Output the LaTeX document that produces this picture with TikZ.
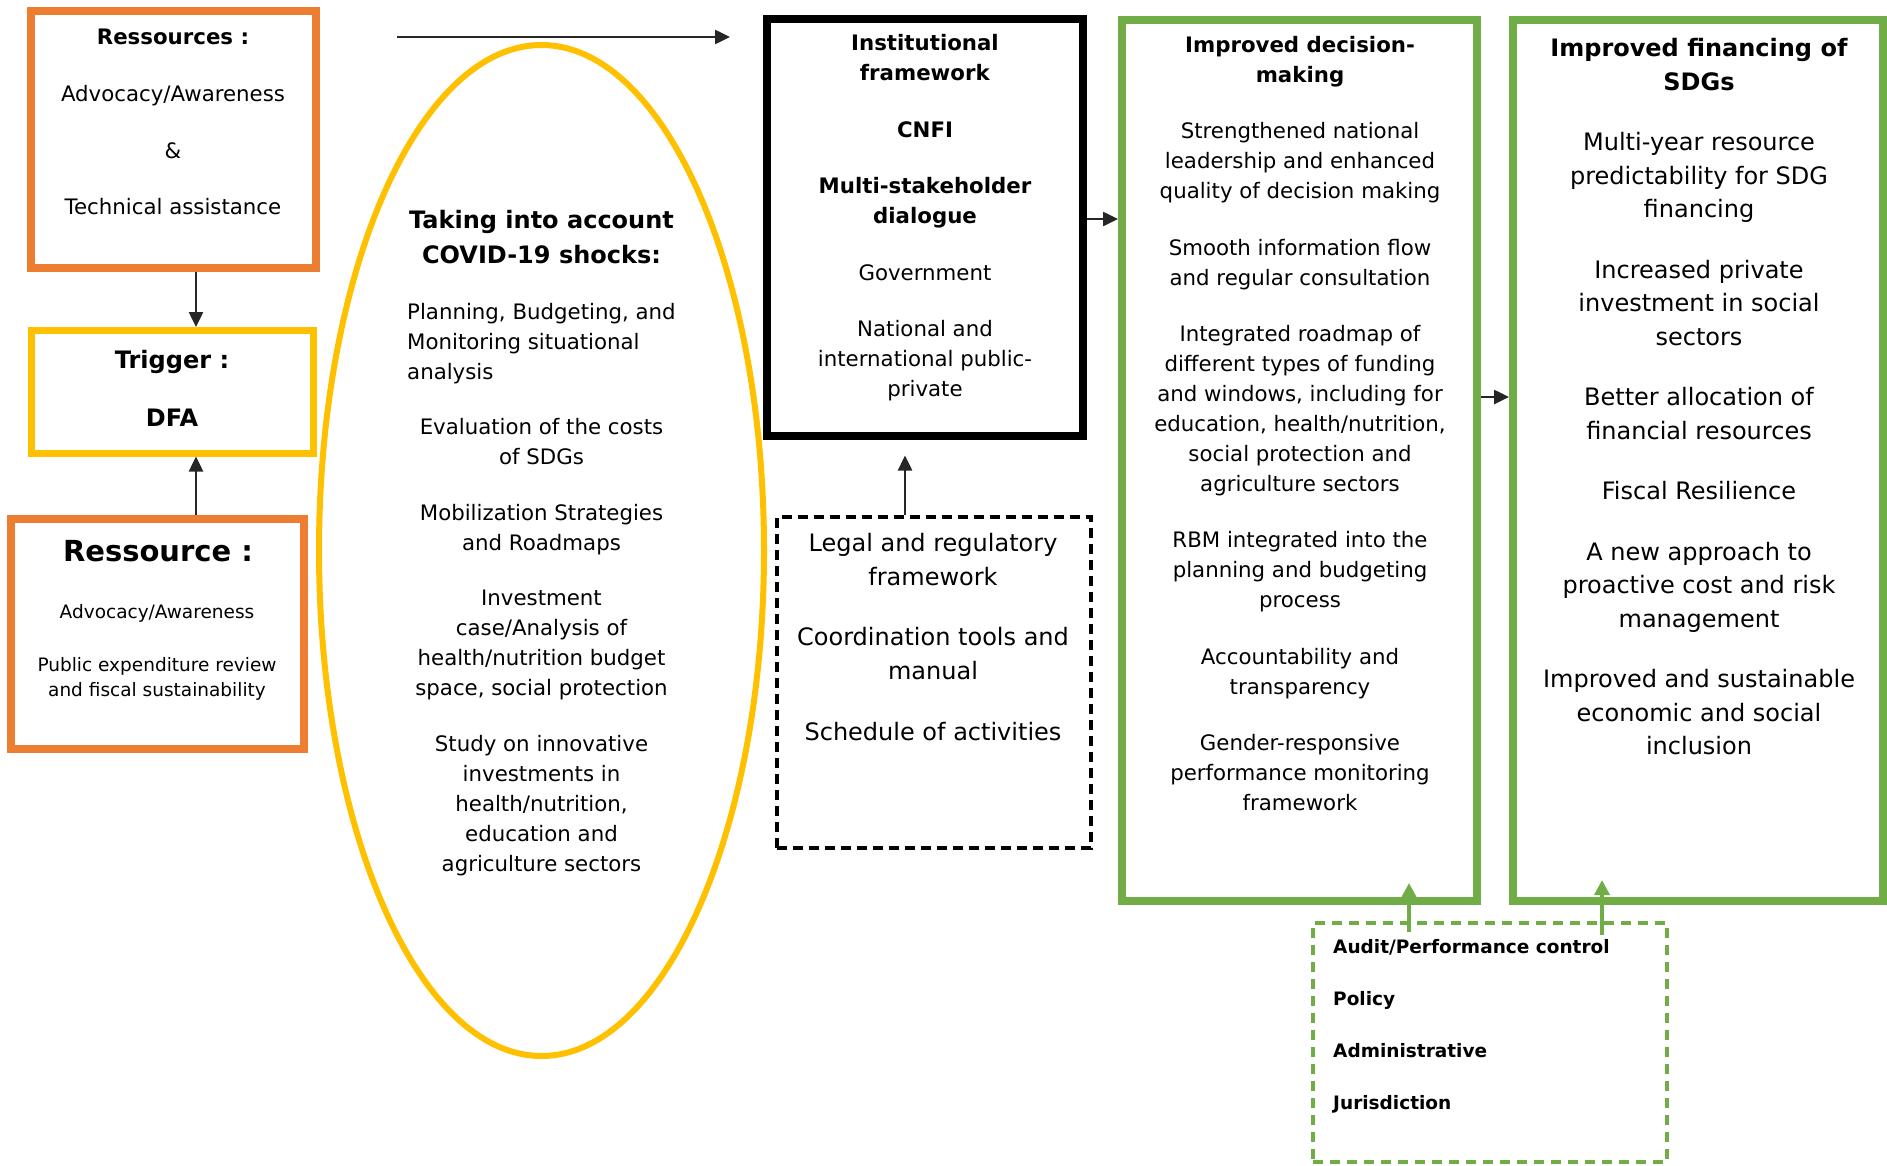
\documentclass[tikz,border=0pt]{standalone}
\usepackage{fontspec}
\setmainfont{DejaVu Sans}
\usetikzlibrary{arrows.meta,shapes.geometric}
\definecolor{cOrange}{HTML}{ED7D31}
\definecolor{cYellow}{HTML}{FFC000}
\definecolor{cGreen}{HTML}{70AD47}
\tikzset{
  frame/.style={draw, rectangle, inner sep=0pt},
  txt/.style={inner sep=0pt, anchor=north, align=center},
  fbody/.style={font=\fontsize{21.3}{30}\selectfont},
  fbig/.style={font=\fontsize{24}{33.5}\selectfont},
  fbigb/.style={font=\fontsize{24}{33.5}\selectfont\bfseries},
  fsmallb/.style={font=\fontsize{18.5}{25}\selectfont\bfseries},
  fsmall/.style={font=\fontsize{18.5}{25}\selectfont},
  arr/.style={draw=black!85, line width=2.5pt, -{Triangle[length=15pt,width=14pt]}},
  garr/.style={draw=cGreen, line width=3.5pt, -{Triangle[length=15pt,width=15pt]}},
}
\begin{document}
\begin{tikzpicture}[x=1pt,y=-1pt]
\useasboundingbox (0,0) rectangle (1887,1165);

% frames
\node[frame, draw=cOrange, line width=8pt, minimum width=284.5pt, minimum height=256.5pt] (box1) at (173.25,139.25) {};
\node[frame, draw=cYellow, line width=7pt, minimum width=282pt, minimum height=122.5pt] (trig) at (172,391.75) {};
\node[frame, draw=cOrange, line width=8pt, minimum width=292.5pt, minimum height=230pt] (res2) at (157.25,634) {};
\node[draw=cYellow, line width=6pt, ellipse, inner sep=0pt, minimum width=445pt, minimum height=1011pt] (ell) at (541.5,550.5) {};
\node[frame, draw=black, line width=8pt, minimum width=316pt, minimum height=416.5pt] (inst) at (925,227.25) {};
\node[frame, draw=black, line width=4pt, dash pattern=on 10pt off 6pt, minimum width=314pt, minimum height=331pt] (legal) at (934,682.5) {};
\node[frame, draw=cGreen, line width=8pt, minimum width=355pt, minimum height=881pt] (g1) at (1299.5,460.5) {};
\node[frame, draw=cGreen, line width=8pt, minimum width=370pt, minimum height=881pt] (g2) at (1698,460.5) {};
\node[frame, draw=cGreen, line width=4pt, dash pattern=on 10pt off 7pt, minimum width=354pt, minimum height=239pt] (gd) at (1490,1042.5) {};

% texts
\node[txt, fbody] (t1) at (173,23.7) {\strut\textbf{Ressources :}\\[27pt] Advocacy/Awareness\\[27pt] \&\\[26pt] Technical assistance};
\node[txt, fbigb] (ttrig) at (172,345) {\strut Trigger :\\[24.5pt] DFA};
\node[txt, font=\fontsize{29}{36}\selectfont\bfseries] (tres) at (158,536) {\strut Ressource :};
\node[txt, fsmall] (tresb) at (157,601) {\strut Advocacy/Awareness\\[28pt] Public expenditure review\\ and fiscal sustainability};

\node[txt, font=\fontsize{24}{35}\selectfont\bfseries] (te1) at (541.5,204) {\strut Taking into account\\ COVID-19 shocks:};
\node[inner sep=0pt, anchor=north west, align=left, fbody] (te2) at (407,298.7) {\strut Planning, Budgeting, and\\ Monitoring situational\\ analysis};
\node[txt, fbody] (te3) at (541.5,413.7) {\strut Evaluation of the costs\\ of SDGs\\[26pt] Mobilization Strategies\\ and Roadmaps\\[25pt] Investment\\ case/Analysis of\\ health/nutrition budget\\ space, social protection\\[26pt] Study on innovative\\ investments in\\ health/nutrition,\\ education and\\ agriculture sectors};

\node[txt, fbody] (tinst) at (925,29.7) {\strut\textbf{Institutional}\\ \textbf{framework}\\[26.5pt] \textbf{CNFI}\\[26pt] \textbf{Multi-stakeholder}\\ \textbf{dialogue}\\[27pt] Government\\[26pt] National and\\ international public-\\ private};

\node[txt, fbig] (tlegal) at (933,528) {\strut Legal and regulatory\\ framework\\[27pt] Coordination tools and\\ manual\\[28pt] Schedule of activities};

\node[txt, fbody] (tg1) at (1300,31.7) {\strut\textbf{Improved decision-}\\ \textbf{making}\\[26pt] Strengthened national\\ leadership and enhanced\\ quality of decision making\\[27pt] Smooth information flow\\ and regular consultation\\[26pt] Integrated roadmap of\\ different types of funding\\ and windows, including for\\ education, health/nutrition,\\ social protection and\\ agriculture sectors\\[26pt] RBM integrated into the\\ planning and budgeting\\ process\\[27pt] Accountability and\\ transparency\\[26pt] Gender-responsive\\ performance monitoring\\ framework};

\node[txt, fbig] (tg2) at (1699,33) {\strut\textbf{Improved financing of}\\ \textbf{SDGs}\\[27pt] Multi-year resource\\ predictability for SDG\\ financing\\[27pt] Increased private\\ investment in social\\ sectors\\[27pt] Better allocation of\\ financial resources\\[27pt] Fiscal Resilience\\[27pt] A new approach to\\ proactive cost and risk\\ management\\[27pt] Improved and sustainable\\ economic and social\\ inclusion};

\node[inner sep=0pt, anchor=north west, align=left, fsmallb] (tgd) at (1333,936) {\strut Audit/Performance control\\[27pt] Policy\\[27pt] Administrative\\[27pt] Jurisdiction};

% connectors
\coordinate (ax) at (196,0);
\coordinate (lx) at (905,0);
\coordinate (y1) at (0,219);
\coordinate (y2) at (0,397);
\coordinate (ga) at (1409,0);
\coordinate (gb) at (1602,0);
\coordinate (topS) at (397,37);
\coordinate (topE) at (730,37);

\draw[arr] (box1.south -| ax) -- (trig.north -| ax);
\draw[arr] (res2.north -| ax) -- (trig.south -| ax);
\draw[arr] (topS) -- (topE);
\draw[arr] (legal.north -| lx) -- ([yshift=-16pt]inst.south -| lx);
\draw[arr] (inst.east |- y1) -- (g1.west |- y1);
\draw[arr] (g1.east |- y2) -- (g2.west |- y2);
\draw[garr] ([yshift=-11pt]gd.north -| ga) -- ([yshift=22pt]g1.south -| ga);
\draw[garr] ([yshift=-14pt]gd.north -| gb) -- ([yshift=25pt]g2.south -| gb);
\end{tikzpicture}
\end{document}
